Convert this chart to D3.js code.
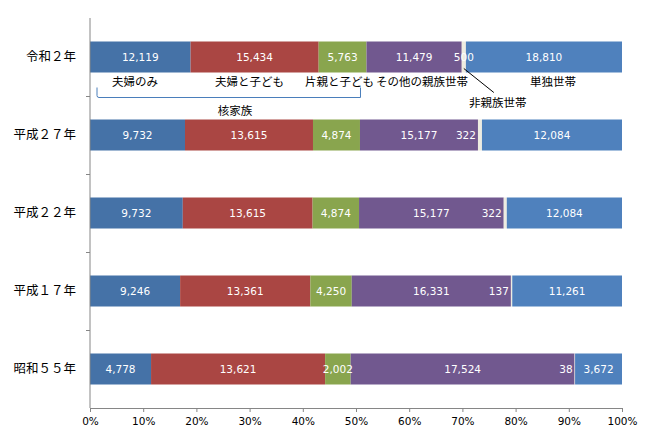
<!DOCTYPE html>
<meta charset="utf-8">
<head>
  <title>世帯構成</title>
</head>
<style>
body { margin: 0; background: #fff; }
svg text { font-family: "Noto Sans CJK JP", sans-serif; }
.num { font-family: "DejaVu Sans", Verdana, sans-serif; font-size: 10.5px; }
.axis path, .axis line { stroke: #868686; }
</style>
<body>
<svg id="chart" width="645" height="438"></svg>
<script src="https://cdnjs.cloudflare.com/ajax/libs/d3/7.8.5/d3.min.js"></script>
<script>
// rows, top to bottom
var years = ["令和２年", "平成２７年", "平成２２年", "平成１７年", "昭和５５年"];
var types = ["夫婦のみ", "夫婦と子ども", "片親と子ども", "その他の親族世帯", "非親族世帯", "単独世帯"];
var colors = ["#4572A7", "#AA4643", "#89A54E", "#71588F", "#EEECE1", "#4F81BD"];

// household counts per row (bar widths). H27 row is read off the bar lengths,
// its printed labels are the same as H22 in the original.
var r02 = [12119, 15434, 5763, 11479, 500, 18810];
var h27 = [10000, 13470, 4945, 12420, 420, 14740];
var h22 = [9732, 13615, 4874, 15177, 322, 12084];
var h17 = [9246, 13361, 4250, 16331, 137, 11261];
var s55 = [4778, 13621, 2002, 17524, 38, 3672];
var values = [r02, h27, h22, h17, s55];

// printed labels
var labels = [
  ["12,119", "15,434", "5,763", "11,479", "500", "18,810"],
  ["9,732", "13,615", "4,874", "15,177", "322", "12,084"],
  ["9,732", "13,615", "4,874", "15,177", "322", "12,084"],
  ["9,246", "13,361", "4,250", "16,331", "137", "11,261"],
  ["4,778", "13,621", "2,002", "17,524", "38", "3,672"]
];
var xTicks = [0, 0.1, 0.2, 0.3, 0.4, 0.5, 0.6, 0.7, 0.8, 0.9, 1];

var svg = d3.select("#chart");
var plotL = 90, plotR = 622, plotT = 18, plotB = 408, barH = 31;

var x = d3.scaleLinear().domain([0, 1]).range([plotL, plotR]);
var y = d3.scaleBand().domain(years).range([plotT, plotB]);

// stacked shares
var rows = values.map(function(v, i) {
  var total = d3.sum(v), acc = 0;
  return v.map(function(d, j) {
    var s = { row: i, type: j, x0: acc / total, x1: (acc + d) / total, label: labels[i][j] };
    acc += d;
    return s;
  });
});
var segs = [].concat.apply([], rows);

function barTop(i) { return y(years[i]) + (y.bandwidth() - barH) / 2; }

svg.append("g").selectAll("rect")
  .data(segs)
  .enter().append("rect")
    .attr("x", function(d) { return x(d.x0); })
    .attr("width", function(d) { return x(d.x1) - x(d.x0); })
    .attr("y", function(d) { return barTop(d.row); })
    .attr("height", barH)
    .attr("fill", function(d) { return colors[d.type]; });

// value labels
svg.append("g").selectAll("text")
  .data(segs)
  .enter().append("text")
    .attr("class", "num")
    .attr("fill", "#fff")
    .attr("text-anchor", function(d) { return (d.type === 4 && d.row > 0) ? "end" : "middle"; })
    .attr("x", function(d) {
      if (d.type === 4 && d.row > 0) return x(d.x0) - 2;
      return (x(d.x0) + x(d.x1)) / 2;
    })
    .attr("y", function(d) { return barTop(d.row) + barH / 2 + 4; })
    .text(function(d) { return d.label; });

// axes
var xAxis = d3.axisBottom(x).tickValues(xTicks).tickFormat(d3.format(".0%")).tickSize(4).tickSizeOuter(0);
svg.append("g")
  .attr("class", "axis")
  .attr("transform", "translate(0," + plotB + ")")
  .call(xAxis)
  .call(function(g) {
    g.selectAll("text").attr("class", "num").attr("fill", "#000").attr("dy", "0.9em").attr("y", 8);
  });

svg.append("g")
  .attr("class", "axis")
  .attr("transform", "translate(" + plotL + ",0)")
  .call(d3.axisLeft(y).tickSize(0).tickPadding(14))
  .call(function(g) {
    g.select(".domain").remove();
    g.selectAll("text").attr("font-size", 12.5).attr("fill", "#000")
      .attr("font-family", "'Noto Sans CJK JP', sans-serif");
  });

// y axis line with ticks at band edges
svg.append("line").attr("x1", plotL).attr("x2", plotL).attr("y1", plotT).attr("y2", plotB)
  .attr("stroke", "#868686");
svg.append("g").selectAll("line")
  .data(years.slice(1))
  .enter().append("line")
    .attr("x1", plotL - 4).attr("x2", plotL)
    .attr("y1", function(d) { return y(d) + 0.5; })
    .attr("y2", function(d) { return y(d) + 0.5; })
    .attr("stroke", "#868686");

// type names under the first bar
var r0 = rows[0];
var nameY = barTop(0) + barH + 13;
var nameShift = [0, -5, -3, 8, 0, 9];
svg.append("g").selectAll("text")
  .data(r0.filter(function(d) { return d.type !== 4; }))
  .enter().append("text")
    .attr("font-size", 11.5)
    .attr("text-anchor", "middle")
    .attr("x", function(d) {
      if (d.type === 0) return x(d.x0) + 45;
      return (x(d.x0) + x(d.x1)) / 2 + nameShift[d.type];
    })
    .attr("y", nameY)
    .text(function(d) { return types[d.type]; });

// 非親族世帯 with leader line
var nk = r0[4];
var nkx = (x(nk.x0) + x(nk.x1)) / 2;
svg.append("line")
  .attr("x1", nkx).attr("y1", barTop(0) + barH - 4)
  .attr("x2", nkx + 30).attr("y2", barTop(0) + barH + 20)
  .attr("stroke", "#000");
svg.append("text")
  .attr("font-size", 11.5).attr("text-anchor", "middle")
  .attr("x", nkx + 34).attr("y", barTop(0) + barH + 34)
  .text(types[4]);

// 核家族 bracket
var bx0 = x(0) + 7, bx1 = x(r0[2].x1) - 6;
var by0 = barTop(0) + barH + 15, by1 = barTop(0) + barH + 25;
svg.append("path")
  .attr("d", "M" + bx0 + "," + by0 + "L" + bx0 + "," + (by1 - 2) + "Q" + bx0 + "," + by1 + " " + (bx0 + 2) + "," + by1 +
             "L" + bx1 + "," + by1 + "L" + bx1 + "," + by0)
  .attr("fill", "none").attr("stroke", "#4A7EBB");
svg.append("text")
  .attr("font-size", 11.5).attr("text-anchor", "middle")
  .attr("x", 235).attr("y", by1 + 17)
  .text("核家族");
</script>
</body>
</html>
